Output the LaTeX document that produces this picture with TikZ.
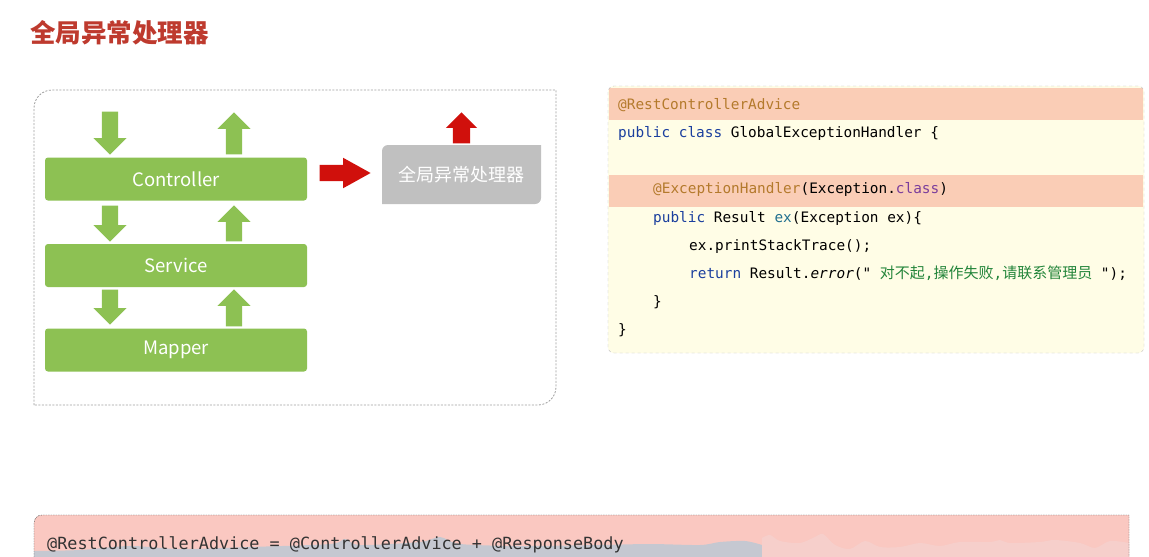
\documentclass[tikz,border=0pt]{standalone}
\usepackage{fontspec}
\setmainfont{Noto Sans CJK SC}
\setmonofont{DejaVu Sans Mono}
\newfontfamily\cjk{Noto Sans CJK SC}
\newfontfamily\barmono{DejaVu Sans Mono}
\usepackage{tikz}
\usetikzlibrary{shapes.arrows}
\definecolor{titlered}{HTML}{BE3A2E}
\definecolor{lgreen}{HTML}{8DC153}
\definecolor{arrred}{HTML}{D0100C}
\definecolor{hgrey}{HTML}{C0C0C0}
\definecolor{band}{HTML}{FACDB6}
\definecolor{codebg}{HTML}{FFFDE6}
\definecolor{annot}{HTML}{B47A2C}
\definecolor{kw}{HTML}{1B3F9E}
\definecolor{meth}{HTML}{21708F}
\definecolor{kwp}{HTML}{7B3E9C}
\definecolor{str}{HTML}{23853A}
\definecolor{notebg}{HTML}{FAC8C1}
\definecolor{wave}{HTML}{C5C8D1}
\definecolor{wavepink}{HTML}{F6CFCB}
\newcommand{\zh}[1]{{\cjk\fontsize{15}{17}\selectfont #1}}

\begin{document}
\begin{tikzpicture}[x=1pt,y=-1pt,
  layer/.style={fill=lgreen,text=white,minimum width=262pt,minimum height=43pt,inner sep=0pt,rounded corners=3pt,font=\fontsize{18.5}{22}\selectfont},
  blk/.style={shape=single arrow,draw=none,inner sep=0pt,inner ysep=8pt,single arrow head indent=0pt,anchor=tip},
  garrow/.style={blk,fill=lgreen,single arrow head extend=8.5pt,single arrow tip angle=90},
  rarrow/.style={blk,fill=arrred,single arrow head extend=7pt},
  codeline/.style={anchor=base west,inner sep=0pt,font=\fontsize{14.4}{17}\selectfont\ttfamily}]
  \useasboundingbox (0,0) rectangle (1149,557);
  \fill[white] (0,0) rectangle (1149,557);

  \node[anchor=west,inner sep=0pt,text=titlered,font=\fontsize{25.5}{30}\selectfont\bfseries] (title) at (30,33) {全局异常处理器};

  % call chain on the left
  \draw[gray!75,line width=0.8pt,dash pattern=on 2pt off 1.5pt] (34,405) -- (34,108) arc[start angle=180,end angle=90,radius=18pt] -- (556,90) -- (556,387) arc[start angle=0,end angle=-90,radius=18pt] -- cycle;
  \node[layer] (ctrl) at (176,179) {Controller};
  \node[layer] (svc) at (176,265.5) {Service};
  \node[layer] (mapper) at (176,350) {Mapper};
  \node[garrow,rotate=-90,minimum height=43pt] (d1) at (110,155) {};
  \node[garrow,rotate=-90,minimum height=36pt] (d2) at (110,242) {};
  \node[garrow,rotate=-90,minimum height=35pt] (d3) at (110,325) {};
  \node[garrow,rotate=90,minimum height=42pt] (u1) at (234,112) {};
  \node[garrow,rotate=90,minimum height=36pt] (u2) at (234,205) {};
  \node[garrow,rotate=90,minimum height=37pt] (u3) at (234,289) {};

  \node[rarrow,minimum height=51pt,single arrow tip angle=58] (r1) at (371,173) {};
  \node[rarrow,rotate=90,inner ysep=8.5pt,minimum height=31pt,single arrow tip angle=90] (r2) at (461.5,112) {};
  \fill[hgrey] (382,204) -- (382,151) arc[start angle=180,end angle=90,radius=6pt] -- (541,145) -- (541,198) arc[start angle=0,end angle=-90,radius=6pt] -- cycle;
  \node[text=white,font=\fontsize{18}{21}\selectfont] (geh) at (461.5,174.5) {全局异常处理器};

  % code panel
  \fill[codebg,rounded corners=6pt] (608,86) rectangle (1144,353);
  \fill[band] (609,88) rectangle (1143,120);
  \fill[band] (609,175) rectangle (1143,207);
  \draw[gray!50,dashed,rounded corners=6pt] (608,86) rectangle (1144,353);
  \node[codeline,text=annot] (c1) at (618,109) {@RestControllerAdvice};
  \node[codeline] (c2) at (618,137) {\textcolor{kw}{public class} GlobalExceptionHandler \{};
  \node[codeline] (c3) at (653,193) {\textcolor{annot}{@ExceptionHandler}(Exception.\textcolor{kwp}{class})};
  \node[codeline] (c4) at (653,222) {\textcolor{kw}{public} Result \textcolor{meth}{ex}(Exception ex)\{};
  \node[codeline] (c5) at (689,250) {ex.printStackTrace();};
  \node[codeline] (c6) at (689,278) {\textcolor{kw}{return} Result.\textit{error}(" \textcolor{str}{\zh{对不起},\zh{操作失败},\zh{请联系管理员}} ");};
  \node[codeline] (c7) at (653,306) {\}};
  \node[codeline] (c8) at (618,334) {\}};

  % note strip at the bottom
  \fill[notebg] (34,557) -- (34,523) arc[start angle=180,end angle=90,radius=8pt] -- (1129,515) -- (1129,557) -- cycle;
  \fill[wave] plot[smooth] coordinates {(34,551) (80,550) (130,546) (180,549) (250,547) (330,544) (345,539) (360,545) (420,542) (440,537) (460,544) (520,546) (600,545) (650,544) (700,545) (720,542) (745,541) (762,545)} -- (762,557) -- (34,557) -- cycle;
  \fill[wavepink] plot[smooth] coordinates {(762,538) (770,535) (780,541) (800,543) (815,537) (823,534) (835,545) (850,549) (865,541) (880,547) (900,547) (920,543) (940,546) (960,542) (990,542) (1000,540) (1010,543) (1040,542) (1055,540) (1080,543) (1095,548) (1110,541) (1129,543)} -- (1129,557) -- (762,557) -- cycle;
  \draw[black!70,dash pattern=on 1.5pt off 1pt] (34,557) -- (34,523) arc[start angle=180,end angle=90,radius=8pt] -- (1129,515) -- (1129,557);
  \node[anchor=base west,inner sep=0pt,text=black!80,font=\fontsize{16.8}{20}\selectfont\barmono] (eq) at (47,549) {@RestControllerAdvice = @ControllerAdvice + @ResponseBody};
\end{tikzpicture}
\end{document}
